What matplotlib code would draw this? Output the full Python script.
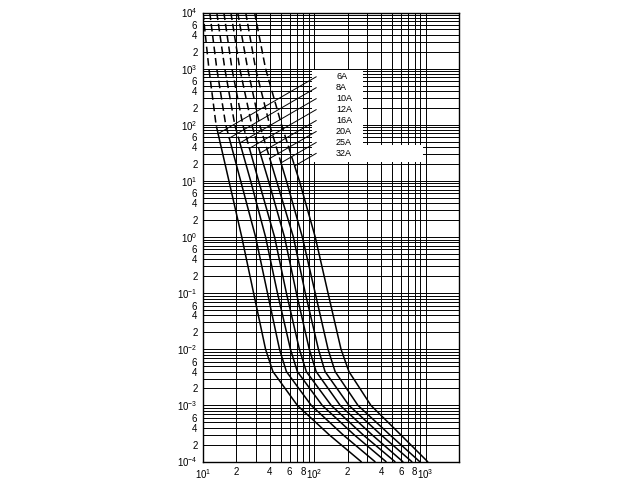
import numpy as np
import matplotlib
matplotlib.use('Agg')
import matplotlib.pyplot as plt
from matplotlib.patches import Rectangle
from matplotlib.ticker import LogLocator, NullFormatter

plt.rcParams['font.family'] = ['Liberation Sans', 'DejaVu Sans']
plt.rcParams['mathtext.fontset'] = 'custom'
plt.rcParams['mathtext.rm'] = 'Liberation Sans'
plt.rcParams['mathtext.it'] = 'Liberation Sans'
plt.rcParams['mathtext.default'] = 'regular'

# ---------------- data ----------------
ratings = ['6A', '8A', '10A', '12A', '16A', '20A', '25A', '32A']
times = [1e4, 1e3, 1e2, 1e1, 1.0, 0.1, 0.01, 0.004, 1e-3, 3e-4, 1e-4]
current_6A = [10.0, 11.3, 13.1, 17.1, 22.3, 28.5, 36.5, 42.5, 70.5, 136, 263]
current_8A = [11.5, 13.3, 16.0, 21.8, 29.7, 38.0, 48.7, 56.2, 94.0, 181, 350]
current_10A = [13.3, 15.7, 19.3, 26.8, 36.5, 46.7, 61.1, 70.5, 118, 228, 440]
current_12A = [15.4, 18.2, 22.8, 31.6, 44.0, 56.2, 73.5, 84.8, 142, 274, 529]
current_16A = [17.8, 21.4, 27.4, 38.8, 54.0, 69.1, 90.2, 104, 171, 330, 623]
current_20A = [20.5, 25.2, 32.3, 45.8, 64.9, 83.1, 109, 125, 205, 397, 750]
current_25A = [24.2, 29.7, 39.7, 56.2, 78.1, 102, 133, 154, 247, 477, 884]
current_32A = [29.1, 36.5, 50.8, 73.5, 102, 133, 174, 205, 323, 598, 1042]
currents = [current_6A, current_8A, current_10A, current_12A,
            current_16A, current_20A, current_25A, current_32A]

x_ticks = [10, 20, 40, 60, 80, 100, 200, 400, 600, 800, 1000]
x_tick_labels = [r'$10^1$', '2', '4', '6', '8', r'$10^2$', '2', '4', '6', '8', r'$10^3$']
y_decades = [-4, -3, -2, -1, 0, 1, 2, 3, 4]
y_decade_labels = [r'$10^{-4}$', r'$10^{-3}$', r'$10^{-2}$', r'$10^{-1}$', r'$10^{0}$',
                   r'$10^{1}$', r'$10^{2}$', r'$10^{3}$', r'$10^{4}$']
y_sub_labels = ['2', '4', '6']

# ---------------- figure ----------------
fig = plt.figure(figsize=(6.4, 4.8), dpi=100)
ax = fig.add_axes([203 / 640, 18.5 / 480, 256 / 640, 449 / 480])
ax.set_xscale('log')
ax.set_yscale('log')
ax.set_xlim(10, 2000)
ax.set_ylim(1e-4, 1e4)

ax.set_xticks(x_ticks)
ax.set_xticklabels(x_tick_labels)
y_ticks, y_labels = [], []
for d, lab in zip(y_decades, y_decade_labels):
    y_ticks.append(10.0 ** d)
    y_labels.append(lab)
    if d < 4:
        for s in y_sub_labels:
            y_ticks.append(int(s) * 10.0 ** d)
            y_labels.append(s)
ax.set_yticks(y_ticks)
ax.set_yticklabels(y_labels)
ax.xaxis.set_minor_locator(LogLocator(base=10, subs=np.arange(1, 10), numticks=50))
ax.yaxis.set_minor_locator(LogLocator(base=10, subs=np.arange(1, 10), numticks=50))
ax.xaxis.set_minor_formatter(NullFormatter())
ax.yaxis.set_minor_formatter(NullFormatter())
ax.tick_params(which='both', length=0, labelsize=7, pad=4)
ax.grid(which='both', color='black', linewidth=0.7)
for sp in ax.spines.values():
    sp.set_color('black')
    sp.set_linewidth(1.0)

# white legend area (L-shaped)
ax.add_patch(Rectangle((0.426, 0.667), 0.200, 0.206, transform=ax.transAxes,
                       facecolor='white', edgecolor='none', zorder=2))
ax.add_patch(Rectangle((0.426, 0.667), 0.433, 0.037, transform=ax.transAxes,
                       facecolor='white', edgecolor='none', zorder=2))

# curves with leaders
lead_slope = 1.15
L0 = 2.017
for i, (name, cur) in enumerate(zip(ratings, currents)):
    lI = np.log10(cur)
    lt = np.log10(times)
    t0 = 2.854 - i * 0.195
    d = lt - (t0 + lead_slope * (lI - L0))
    k = int(np.argmax(d <= 0))
    f = d[k - 1] / (d[k - 1] - d[k])
    Ix = lI[k - 1] + f * (lI[k] - lI[k - 1])
    tx = lt[k - 1] + f * (lt[k] - lt[k - 1])
    dash_I = np.concatenate([lI[:k], [Ix]])
    dash_t = np.concatenate([lt[:k], [tx]])
    sol_I = np.concatenate([[Ix], lI[k:]])
    sol_t = np.concatenate([[tx], lt[k:]])
    ax.plot(10 ** dash_I, 10 ** dash_t, color='black', lw=1.1,
            dashes=(5, 2.5), zorder=3)
    ax.plot(10 ** sol_I, 10 ** sol_t, color='black', lw=1.1, zorder=3,
            solid_joinstyle='round')
    ax.plot([10 ** Ix, 10 ** L0], [10 ** tx, 10 ** t0], color='black', lw=0.7, zorder=3)
    ax.text(10 ** 2.196, 10 ** t0, name, fontsize=6.5, va='center', ha='left',
            zorder=4)

fig.savefig('out.png', dpi=100)
